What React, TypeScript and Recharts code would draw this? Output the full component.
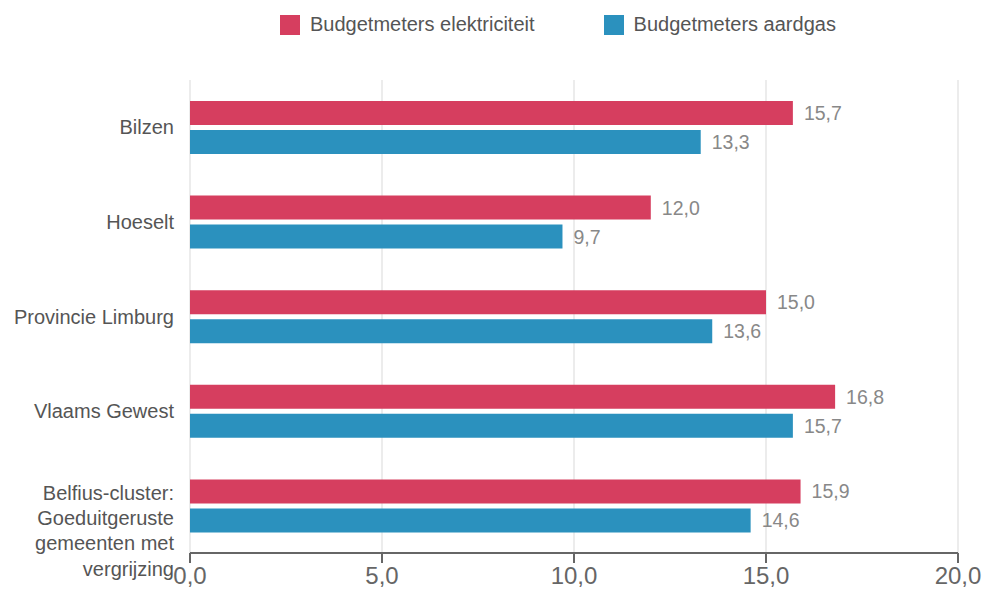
import React from 'react';
import {
  BarChart,
  Bar,
  XAxis,
  YAxis,
  CartesianGrid,
  LabelList,
} from 'recharts';

const regions = [
  'Bilzen',
  'Hoeselt',
  'Provincie Limburg',
  'Vlaams Gewest',
  'Belfius-cluster: Goeduitgeruste gemeenten met vergrijzing',
];
const elektriciteit = [15.7, 12.0, 15.0, 16.8, 15.9];
const aardgas = [13.3, 9.7, 13.6, 15.7, 14.6];
const xTicks = [0, 5, 10, 15, 20];

// multi-line labels split by hand like the original
const labelLines: Record<string, string[]> = {
  'Belfius-cluster: Goeduitgeruste gemeenten met vergrijzing': [
    'Belfius-cluster:',
    'Goeduitgeruste',
    'gemeenten met',
    'vergrijzing',
  ],
};

const RED = '#d63e5f';
const BLUE = '#2b91be';
const FONT = '"Liberation Sans", Arial, sans-serif';

const data = regions.map((name, i) => ({
  name,
  elek: elektriciteit[i],
  gas: aardgas[i],
}));

const fmt = (v: number) => v.toFixed(1).replace('.', ',');

const CategoryTick = (props: any) => {
  const { y, payload } = props;
  const lines = labelLines[payload.value] || [payload.value];
  const start = lines.length > 1 ? y - 13 : y;
  return (
    <text
      x={174}
      y={start}
      textAnchor="end"
      fill="#555"
      fontSize={20}
      fontFamily={FONT}
      dominantBaseline="central"
    >
      {lines.map((l, i) => (
        <tspan key={i} x={174} y={start + i * 25.3}>
          {l}
        </tspan>
      ))}
    </text>
  );
};

const legendItems = [
  { label: 'Budgetmeters elektriciteit', color: RED },
  { label: 'Budgetmeters aardgas', color: BLUE },
];

const LegendBox = () => (
  <div
    style={{
      position: 'absolute',
      top: 13,
      left: 280,
      display: 'flex',
      gap: 69,
      fontFamily: FONT,
      fontSize: 20,
      color: '#555',
    }}
  >
    {legendItems.map((it) => (
      <div key={it.label} style={{ display: 'flex', alignItems: 'center' }}>
        <span
          style={{
            width: 20,
            height: 20,
            background: it.color,
            display: 'inline-block',
            marginRight: 10,
          }}
        />
        <span>{it.label}</span>
      </div>
    ))}
  </div>
);

export default function App() {
  return (
    <div
      style={{
        position: 'absolute',
        left: 0,
        top: 0,
        width: 988,
        height: 590,
        background: '#fff',
      }}
    >
      <BarChart
        width={988}
        height={590}
        data={data}
        layout="vertical"
        margin={{ top: 80, right: 30, bottom: 0, left: 0 }}
        barCategoryGap={21}
        barGap={5}
      >
        <CartesianGrid horizontal={false} stroke="#e6e6e6" strokeWidth={1.5} />
        <XAxis
          type="number"
          domain={[0, 20]}
          ticks={xTicks}
          tickFormatter={fmt}
          height={37}
          tickSize={10}
          stroke="#666"
          strokeWidth={2}
          tick={{ fill: '#666', fontSize: 24, fontFamily: FONT }}
          tickMargin={4}
          interval={0}
        />
        <YAxis
          type="category"
          dataKey="name"
          width={190}
          axisLine={false}
          tickLine={false}
          tick={<CategoryTick />}
          interval={0}
        />
        <Bar dataKey="elek" fill={RED} barSize={24} isAnimationActive={false}>
          <LabelList
            dataKey="elek"
            position="right"
            offset={11}
            formatter={(v: any) => fmt(Number(v))}
            style={{ fill: '#888', fontSize: 19.5, fontFamily: FONT }}
          />
        </Bar>
        <Bar dataKey="gas" fill={BLUE} barSize={24} isAnimationActive={false}>
          <LabelList
            dataKey="gas"
            position="right"
            offset={11}
            formatter={(v: any) => fmt(Number(v))}
            style={{ fill: '#888', fontSize: 19.5, fontFamily: FONT }}
          />
        </Bar>
      </BarChart>
      <LegendBox />
    </div>
  );
}
